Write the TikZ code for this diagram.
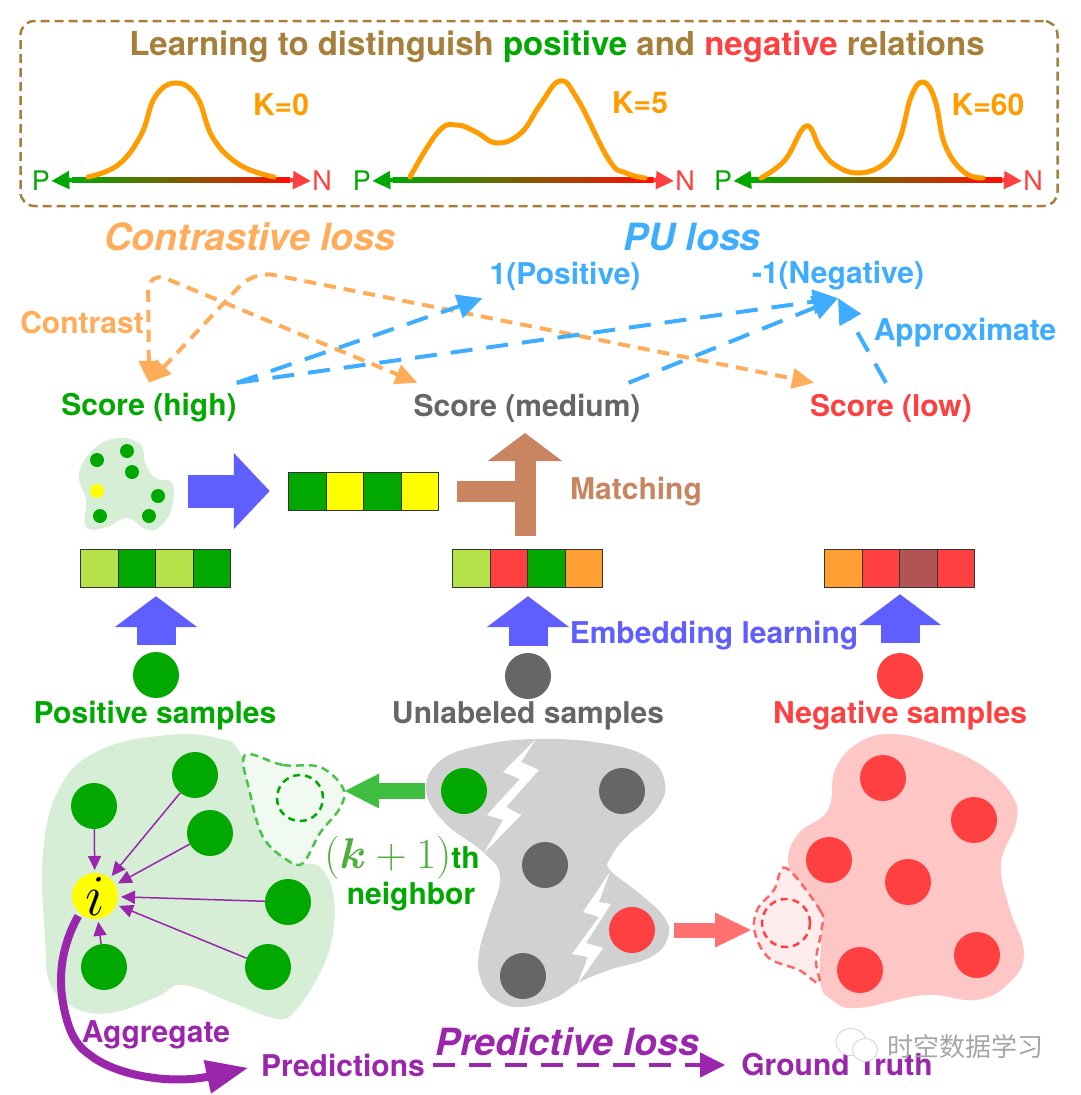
\documentclass[tikz,border=0pt]{standalone}
\usepackage{fix-cm}
\usepackage{amsmath}
\usepackage{fontspec}
\setmainfont{TeX Gyre Heros}
\newfontfamily\cjk{Noto Sans CJK SC}
\usetikzlibrary{arrows.meta,positioning,shapes.geometric}
\definecolor{pgreen}{HTML}{00A800}
\definecolor{pred}{HTML}{FF4040}
\definecolor{ugray}{HTML}{666666}
\definecolor{plime}{HTML}{B5E14A}
\definecolor{pyell}{HTML}{FFFF00}
\definecolor{porange}{HTML}{FF9E33}
\definecolor{pbrick}{HTML}{B35454}
\definecolor{curve}{HTML}{FF9C00}
\definecolor{boxbrown}{HTML}{A67F3A}
\definecolor{contr}{HTML}{FFAD5A}
\definecolor{pulabel}{HTML}{3FADFF}
\definecolor{embed}{HTML}{5F5FFF}
\definecolor{match}{HTML}{C88560}
\definecolor{purp}{HTML}{9A26AC}
\definecolor{blobg}{HTML}{D6EDD6}
\definecolor{nbgreen}{HTML}{4CAF3C}
\begin{document}
\begin{tikzpicture}[x=1pt, y=-1pt, font=\bfseries\fontsize{30}{34}\selectfont,
  lbl/.style={inner sep=0pt, align=center},
  loss/.style={inner sep=0pt, font=\bfseries\itshape\fontsize{37.5}{42}\selectfont},
  score/.style={inner sep=0pt, minimum height=50pt},
  target/.style={inner sep=0pt, minimum height=44pt},
  pn/.style={inner sep=1pt, font=\mdseries\fontsize{27}{30}\selectfont},
  axisbar/.style={inner sep=0pt, minimum height=4.5pt, left color=pgreen, right color=red!90!orange},
  tipg/.style={line width=4.5pt, pgreen, -{Triangle[length=18pt,width=17pt]}},
  tipr/.style={line width=4.5pt, pred, -{Triangle[length=18pt,width=17pt]}},
  kcurve/.style={line width=5pt, curve, line cap=round},
  contrast/.style={line width=4pt, contr, dash pattern=on 12pt off 8pt, rounded corners=20pt, {Triangle[length=22pt,width=20pt]}-{Triangle[length=22pt,width=20pt]}},
  pu/.style={line width=4pt, pulabel, dash pattern=on 22pt off 14pt, -{Triangle[length=25pt,width=24pt]}},
  cell/.style={draw=black!80, line width=1pt, inner sep=0pt, minimum width=37.5pt, minimum height=38pt, outer sep=0pt},
  barbox/.style={inner sep=0pt, minimum width=150pt, minimum height=38pt},
  emb/.style={line width=39pt, embed, -{Triangle[length=31pt,width=81pt]}},
  dotg/.style={circle, fill=pgreen, inner sep=0pt, minimum size=46pt},
  dotu/.style={dotg, fill=ugray},
  dotr/.style={dotg, fill=pred},
  mini/.style={circle, inner sep=0pt, minimum size=14pt, fill=pgreen},
  thinp/.style={line width=1.5pt, purp, -{Triangle[length=14pt,width=13pt]}},
  flash/.style={fill=white}]
  \useasboundingbox (0,0) rectangle (1080,1095);

  \node[draw=boxbrown, line width=2.5pt, dash pattern=on 9pt off 5pt, rounded corners=14pt, inner sep=0pt, minimum width=1037pt, minimum height=185pt] (topbox) at (539,113.5) {};
  \node[lbl, text=boxbrown, font=\bfseries\fontsize{33}{36}\selectfont] (title) at (557,47) {Learning to distinguish \textcolor{pgreen}{positive} and \textcolor{pred}{negative} relations};

  \foreach \n/\xp/\xm/\wb/\xn/\kx/\ky/\kt in {1/41/181/218/322/281/105/K=0, 2/362/523/261/685/640/103/K=5, 3/723/876/252/1033/988/105/K=60} {
    \node[pn, text=pgreen] (P\n) at (\xp,181) {P};
    \node[pn, text=pred] (N\n) at (\xn,181) {N};
    \node[axisbar, minimum width=\wb pt] (bar\n) at (\xm,180) {};
    \draw[tipg] (bar\n.west) -- (P\n.east);
    \draw[tipr] (bar\n.east) -- (N\n.west);
    \node[lbl, text=curve] (k\n) at (\kx,\ky) {\kt};
  }
  \draw[kcurve] plot[smooth, tension=0.7] coordinates {(88,177) (118,165) (141,135) (155,97) (176,83) (197,97) (213,138) (240,165) (274,177)};
  \draw[kcurve] plot[smooth, tension=0.7] coordinates {(410,177) (438,132) (457,125) (476,132) (497,143) (521,133) (540,105) (560,81) (578,100) (609,160) (626,173) (645,178)};
  \draw[kcurve] plot[smooth, tension=0.7] coordinates {(761,178) (785,160) (806,126) (820,148) (835,165) (859,173) (885,163) (900,138) (911,97) (923,82) (935,100) (945,145) (964,172) (983,178)};

  \node[loss, text=contr] (closs) at (250,237) {Contrastive loss};
  \node[loss, text=pulabel] (puloss) at (692,237) {PU loss};
  \node[target, text=pulabel] (posl) at (565,276) {1(Positive)};
  \node[target, text=pulabel] (negl) at (838,276) {-1(Negative)};
  \node[lbl, text=contr] (contrast) at (82,323) {Contrast};
  \node[lbl, text=pulabel] (approx) at (965,333) {Approximate};
  \node[score, text=pgreen] (schigh) at (149,408) {Score (high)};
  \node[score, text=ugray] (scmed) at (527,408) {Score (medium)};
  \node[score, text=pred] (sclow) at (891,408) {Score (low)};

  \coordinate (bendmed) at (148,271);
  \coordinate (bendlow) at (254,271);
  \draw[contrast] (schigh.north) -- (bendmed) -- ([xshift=4pt]scmed.north west);
  \draw[contrast] (schigh.north) -- (bendlow) -- ([xshift=4pt]sclow.north west);
  \draw[pu] (schigh.north east) -- ([xshift=-7pt]posl.south west);
  \draw[pu] (schigh.north east) -- (negl.south);
  \draw[pu] ([xshift=-12pt]scmed.north east) -- (negl.south);
  \draw[pu] ([xshift=-5pt]sclow.north) -- (negl.south);

  \fill[blobg] plot[smooth cycle, tension=0.7] coordinates {(120,438) (141,445) (145,463) (155,478) (172,483) (172,507) (162,525) (148,530) (127,518) (107,527) (86,527) (86,500) (79,473) (96,447)};
  \foreach \x/\y [count=\n] in {127/451, 97/460, 132/472, 158/496, 100/516, 149/516}
    \node[mini] (m\n) at (\x,\y) {};
  \node[mini, fill=pyell] (my) at (97,491) {};

  \foreach \n/\x/\y/\ca/\cb/\cc/\cd in {sel/364/491/pgreen/pyell/pgreen/pyell, posb/156/568/plime/pgreen/plime/pgreen, unlb/528/568/plime/pred/pgreen/porange, negb/900/568/porange/pred/pbrick/pred} {
    \node[barbox] (\n) at (\x,\y) {};
    \node[cell, fill=\ca, anchor=west] (\n1) at (\n.west) {};
    \node[cell, fill=\cb, right=0pt of \n1] (\n2) {};
    \node[cell, fill=\cc, right=0pt of \n2] (\n3) {};
    \node[cell, fill=\cd, right=0pt of \n3] (\n4) {};
  }
  \coordinate (sblob) at (188,491);
  \draw[line width=33pt, embed, shorten >=19pt, -{Triangle[length=36pt,width=74pt]}] (sblob) -- (sel.west);

  \coordinate (tjoin) at (525,491);
  \coordinate (tfoot) at (525,536);
  \coordinate (ttip) at (525,433);
  \draw[line width=21pt, match, shorten <=18pt] (sel.east) -- (tjoin);
  \draw[line width=21pt, match, -{Triangle[length=28pt,width=73pt]}] (tfoot) -- (ttip);
  \node[lbl, text=match] (matching) at (636,492) {Matching};

  \node[dotg] (posc) at (156,675) {};
  \node[dotu] (unlc) at (528,676) {};
  \node[dotr] (negc) at (900,676) {};
  \draw[emb, shorten <=7pt, shorten >=9pt] (posc.north) -- (posb.south);
  \draw[emb, shorten <=7pt, shorten >=9pt] (unlc.north) -- (unlb.south);
  \draw[emb, shorten <=10pt, shorten >=7pt] (negc.north) -- (negb.south);
  \node[lbl, text=embed] (embl) at (714,636) {Embedding learning};
  \node[lbl, text=pgreen] (posl2) at (155,716) {Positive samples};
  \node[lbl, text=ugray] (unll) at (528,716) {Unlabeled samples};
  \node[lbl, text=pred] (negl2) at (900,716) {Negative samples};

  \fill[blobg] plot[smooth cycle, tension=0.7] coordinates {(167,735) (217,738) (240,753) (257,810) (273,850) (300,863) (320,867) (333,893) (333,933) (320,973) (293,1013) (273,1018) (233,1003) (183,985) (157,997) (110,1013) (73,1007) (50,983) (45,937) (43,853) (60,787) (100,750)};
  \draw[pgreen!70!white, fill=pgreen!6, line width=2.5pt, dash pattern=on 8pt off 5pt] plot[smooth cycle, tension=0.6] coordinates {(245,755) (283,765) (320,767) (343,788) (340,808) (320,833) (303,863) (287,860) (263,837) (250,793)};
  \node[circle, draw=pgreen, line width=2.5pt, dash pattern=on 7pt off 5pt, inner sep=0pt, minimum size=46pt] (gring) at (300,798) {};

  \node[dotg] (p1) at (94,806) {};
  \node[dotg] (p2) at (195,775) {};
  \node[dotg] (p3) at (210,833) {};
  \node[dotg] (p4) at (288,902) {};
  \node[dotg] (p5) at (268,967) {};
  \node[dotg] (p6) at (104,967) {};
  \node[circle, fill=pyell, inner sep=0pt, minimum size=46pt, outer sep=3pt, font=\fontsize{58}{60}\selectfont] (i) at (95,896) {$i$};
  \foreach \n in {p1,p2,p3,p4,p5,p6}
    \draw[thinp] (\n) -- (i);

  \fill[black!18] plot[smooth cycle, tension=0.7] coordinates {(536,739) (601,743) (647,757) (665,783) (656,810) (626,837) (611,857) (610,870) (639,893) (664,917) (668,937) (651,957) (609,970) (578,983) (555,998) (521,1007) (496,1000) (481,980) (479,953) (489,917) (500,877) (483,852) (445,823) (426,790) (441,760) (483,745)};
  \fill[flash] (536,739) -- (503,772) -- (520,779) -- (487,815) -- (503,820) -- (484,853) -- (521,815) -- (506,807) -- (539,770) -- (521,762) -- cycle;
  \fill[flash] (610,872) -- (583,912) -- (599,917) -- (572,954) -- (588,957) -- (577,985) -- (603,948) -- (586,943) -- (611,904) -- (599,902) -- cycle;
  \node[dotg] (u1) at (464,791) {};
  \node[dotu] (u2) at (622,791) {};
  \node[dotu] (u3) at (545,865) {};
  \node[dotr] (u4) at (632,930) {};
  \node[dotu] (u5) at (523,976) {};

  \fill[pred!30] plot[smooth cycle, tension=0.7] coordinates {(893,734) (938,745) (984,767) (1013,797) (1016,823) (1001,863) (1009,907) (1024,953) (1009,983) (976,1000) (925,995) (858,1008) (832,1000) (820,980) (820,920) (799,887) (788,860) (799,833) (828,810) (835,770) (858,743)};
  \draw[pred!80!white, fill=pred!10, line width=2.5pt, dash pattern=on 8pt off 5pt] plot[smooth cycle, tension=0.6] coordinates {(786,868) (820,910) (822,927) (816,960) (819,983) (799,970) (769,958) (755,933) (757,910) (774,890)};
  \node[circle, draw=pred, line width=2.5pt, dash pattern=on 7pt off 5pt, inner sep=0pt, minimum size=48pt] (rring) at (786,923) {};
  \foreach \x/\y [count=\n] in {883/778, 974/820, 829/860, 908/882, 860/970, 977/955}
    \node[dotr] (r\n) at (\x,\y) {};

  \coordinate (gtip) at (344,791);
  \coordinate (rtip) at (752,930);
  \draw[line width=16pt, pgreen!75!white, shorten <=16pt, -{Triangle[length=35pt,width=32pt]}] (u1.west) -- (gtip);
  \draw[line width=15pt, pred!75!white, shorten <=19pt, -{Triangle[length=37pt,width=32pt]}] (u4.east) -- (rtip);

  \node[lbl, text=pgreen] (kth) at (402,858) {\textcolor{nbgreen}{\fontsize{43}{46}\selectfont$(\boldsymbol{k}+1)$}th};
  \node[lbl, text=pgreen] (nbr) at (411,897) {neighbor};

  \node[lbl, text=purp] (aggr) at (156,1035) {Aggregate};
  \node[lbl, text=purp] (pred) at (343,1065) {Predictions};
  \node[lbl, text=purp] (gt) at (837,1065) {Ground Truth};
  \node[loss, text=purp] (ploss) at (567,1042) {Predictive loss};
  \draw[line width=8pt, purp, shorten >=13pt, -{Triangle[length=42pt,width=32pt]}] (i.230) .. controls (62,945) and (58,975) .. (63,1003) .. controls (68,1030) and (75,1045) .. (90,1055) .. controls (115,1075) and (170,1085) .. (pred.west);
  \draw[line width=4pt, purp, dash pattern=on 22pt off 14pt, shorten <=8pt, shorten >=16pt, -{Triangle[length=25pt,width=24pt]}] (pred.east) -- (gt.west);

  \node[ellipse, draw=black!15, fill=white, line width=1pt, inner sep=0pt, minimum width=30pt, minimum height=27pt] (wechat1) at (851,1042) {};
  \node[ellipse, draw=black!15, fill=white, line width=1pt, inner sep=0pt, minimum width=25pt, minimum height=23pt] (wechat2) at (865,1050) {};
  \node[lbl, text=black!35, font=\cjk\fontsize{26}{30}\selectfont] (mark) at (965,1047) {时空数据学习};
\end{tikzpicture}
\end{document}
